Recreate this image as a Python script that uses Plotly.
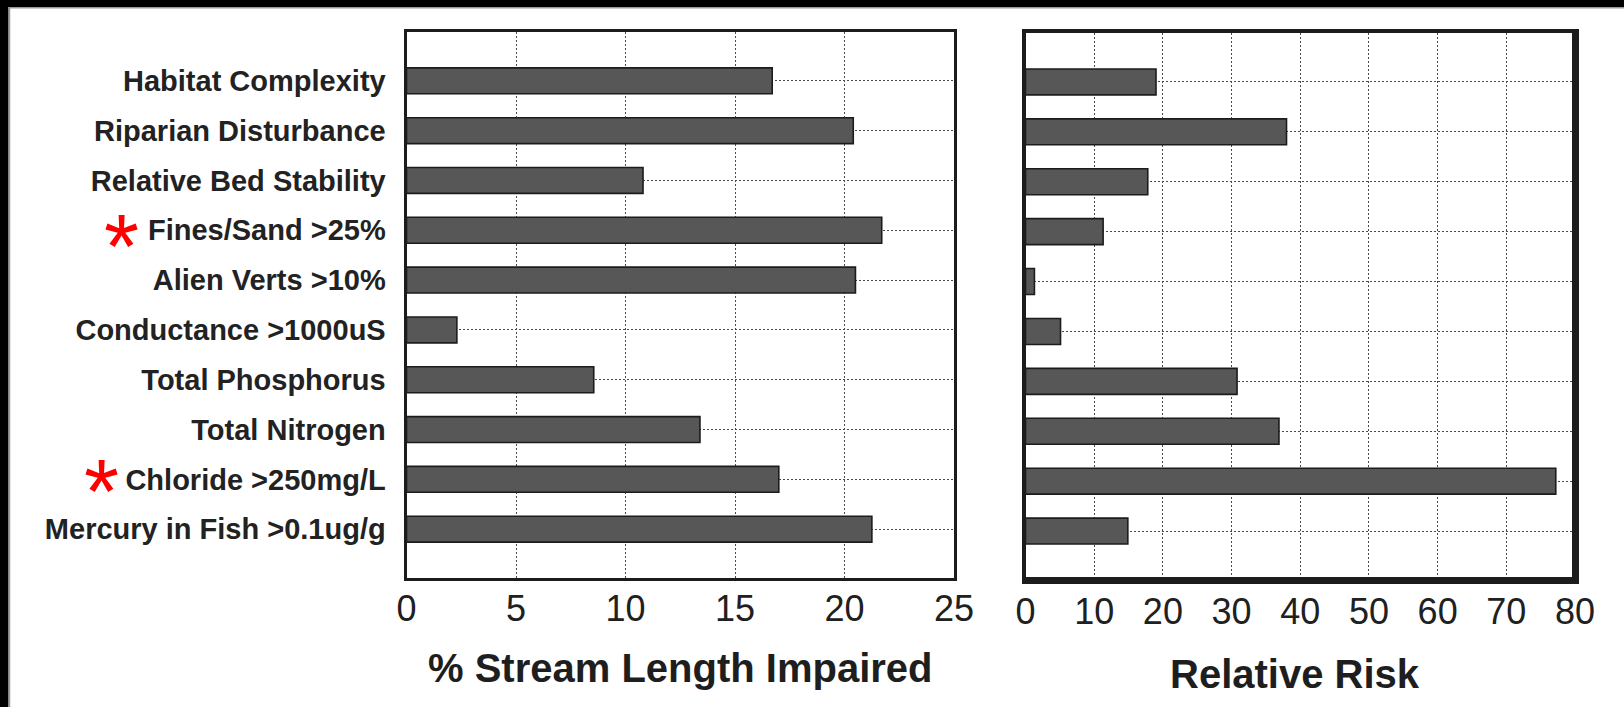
import plotly.graph_objects as go

categories = [
    "Habitat Complexity",
    "Riparian Disturbance",
    "Relative Bed Stability",
    "Fines/Sand >25%",
    "Alien Verts >10%",
    "Conductance >1000uS",
    "Total Phosphorus",
    "Total Nitrogen",
    "Chloride >250mg/L",
    "Mercury in Fish >0.1ug/g",
]
pct_impaired = [16.7, 20.4, 10.8, 21.7, 20.5, 2.3, 8.55, 13.4, 17.0, 21.25]
relative_risk = [19.0, 38.0, 17.8, 11.3, 1.3, 5.1, 30.8, 36.9, 77.2, 14.9]
flagged = ["Fines/Sand >25%", "Chloride >250mg/L"]
left_ticks = [0, 5, 10, 15, 20, 25]
right_ticks = [0, 10, 20, 30, 40, 50, 60, 70, 80]

W, H = 1624, 707
FONT = "Liberation Sans, Arial, Helvetica, sans-serif"
INK = "#1c1c1c"
BAR_FILL = "#575757"
GRID = "#4a4a4a"

def px_x(p):
    return p / W

def px_y(p):
    return 1 - p / H

fig = go.Figure()
fig.add_trace(go.Bar(
    y=categories, x=pct_impaired, orientation="h", xaxis="x", yaxis="y",
    width=0.52, marker=dict(color=BAR_FILL, line=dict(color=INK, width=1.6)),
    showlegend=False,
))
fig.add_trace(go.Bar(
    y=categories, x=relative_risk, orientation="h", xaxis="x2", yaxis="y2",
    width=0.52, marker=dict(color=BAR_FILL, line=dict(color=INK, width=1.6)),
    showlegend=False,
))

n = len(categories)
cat_range = [n - 0.02, -1.0 + 0.02]

common_x = dict(
    showgrid=True, gridcolor=GRID, griddash="2px,2px", gridwidth=1,
    showline=True, linecolor=INK, mirror=True, zeroline=False,
    ticks="", tickfont=dict(family=FONT, size=36, color="#202020"),
    ticklabelstandoff=-3, automargin=False, fixedrange=True,
)
common_y = dict(
    type="category", categoryorder="array", categoryarray=categories,
    range=cat_range, showgrid=True, gridcolor=GRID, griddash="2px,2px", gridwidth=1,
    showline=True, linecolor=INK, mirror=True, zeroline=False, automargin=False,
)

left_dom_x = [px_x(406.5), px_x(954)]
right_dom_x = [px_x(1025.5), px_x(1575)]
left_dom_y = [px_y(578), px_y(32)]
right_dom_y = [px_y(580), px_y(33)]

fig.update_layout(
    width=W, height=H, margin=dict(l=0, r=0, t=0, b=0),
    template="none", paper_bgcolor="white", plot_bgcolor="white",
    bargap=0.48,
    xaxis=dict(common_x, domain=left_dom_x, range=[0, 25], tickvals=left_ticks,
               anchor="y", linewidth=3),
    yaxis=dict(common_y, domain=left_dom_y, anchor="x", linewidth=3,
               ticks="outside", ticklen=0, ticklabelstandoff=12,
               tickfont=dict(family=FONT, size=29, color="#222222", weight="bold")),
    xaxis2=dict(common_x, domain=right_dom_x, range=[0, 80], tickvals=right_ticks,
                anchor="y2", linewidth=4),
    yaxis2=dict(common_y, domain=right_dom_y, anchor="x2", linewidth=4,
                showticklabels=False),
    # inside tick marks on top and right edges
    xaxis3=dict(overlaying="x", side="top", anchor="y", range=[0, 25],
                tickvals=left_ticks[1:-1], ticks="inside", ticklen=9, tickwidth=3,
                tickcolor=INK, showticklabels=False, showgrid=False, zeroline=False,
                showline=False, fixedrange=True),
    yaxis3=dict(overlaying="y", side="right", anchor="x", range=cat_range,
                tickvals=list(range(n)), ticks="inside", ticklen=12, tickwidth=3,
                tickcolor=INK, showticklabels=False, showgrid=False, zeroline=False,
                showline=False, fixedrange=True),
    xaxis4=dict(overlaying="x2", side="top", anchor="y2", range=[0, 80],
                tickvals=right_ticks[1:-1], ticks="inside", ticklen=9, tickwidth=3,
                tickcolor=INK, showticklabels=False, showgrid=False, zeroline=False,
                showline=False, fixedrange=True),
    yaxis4=dict(overlaying="y2", side="right", anchor="x2", range=cat_range,
                tickvals=list(range(n)), ticks="inside", ticklen=12, tickwidth=3,
                tickcolor=INK, showticklabels=False, showgrid=False, zeroline=False,
                showline=False, fixedrange=True),
)

# axis titles
fig.add_annotation(text="<b>% Stream Length Impaired</b>", xref="x domain", x=0.5,
                   yref="paper", y=px_y(668), yanchor="middle", showarrow=False,
                   font=dict(family=FONT, size=40, color="#1e1e1e"))
fig.add_annotation(text="<b>Relative Risk</b>", xref="x2 domain", x=0.5, xshift=-5,
                   yref="paper", y=px_y(674), yanchor="middle", showarrow=False,
                   font=dict(family=FONT, size=40, color="#1e1e1e"))

# red asterisks flagging categories
ast_x = {"Fines/Sand >25%": 121, "Chloride >250mg/L": 101}
ast_dy = {"Fines/Sand >25%": 0, "Chloride >250mg/L": 4}
for c in flagged:
    fig.add_annotation(text="*", xref="paper", x=px_x(ast_x[c]), yref="y", y=c,
                       yanchor="middle", xanchor="center", yshift=-17 + ast_dy[c],
                       showarrow=False, font=dict(family=FONT, size=90, color="#ff0000"))

# thicker right/bottom border on the right panel
fig.add_shape(type="line", xref="x2 domain", yref="y2 domain", x0=1, x1=1, y0=0, y1=1,
              line=dict(color=INK, width=6))
fig.add_shape(type="line", xref="x2 domain", yref="y2 domain", x0=0, x1=1, y0=0, y1=0,
              line=dict(color=INK, width=6))

# black image frame (top and left)
fig.add_shape(type="rect", xref="paper", yref="paper", x0=0, x1=1, y0=px_y(7), y1=1,
              fillcolor="black", line=dict(width=0), layer="above")
fig.add_shape(type="rect", xref="paper", yref="paper", x0=0, x1=px_x(8.5), y0=0, y1=1,
              fillcolor="black", line=dict(width=0), layer="above")
fig.add_shape(type="line", xref="paper", yref="paper", x0=px_x(8.5), x1=1, y0=px_y(7.8), y1=px_y(7.8),
              line=dict(color="#9a9a9a", width=1.5), layer="above")
fig.add_shape(type="line", xref="paper", yref="paper", x0=px_x(9.5), x1=px_x(9.5), y0=0, y1=px_y(7),
              line=dict(color="#9a9a9a", width=1.5), layer="above")

fig.write_html("out.html")
